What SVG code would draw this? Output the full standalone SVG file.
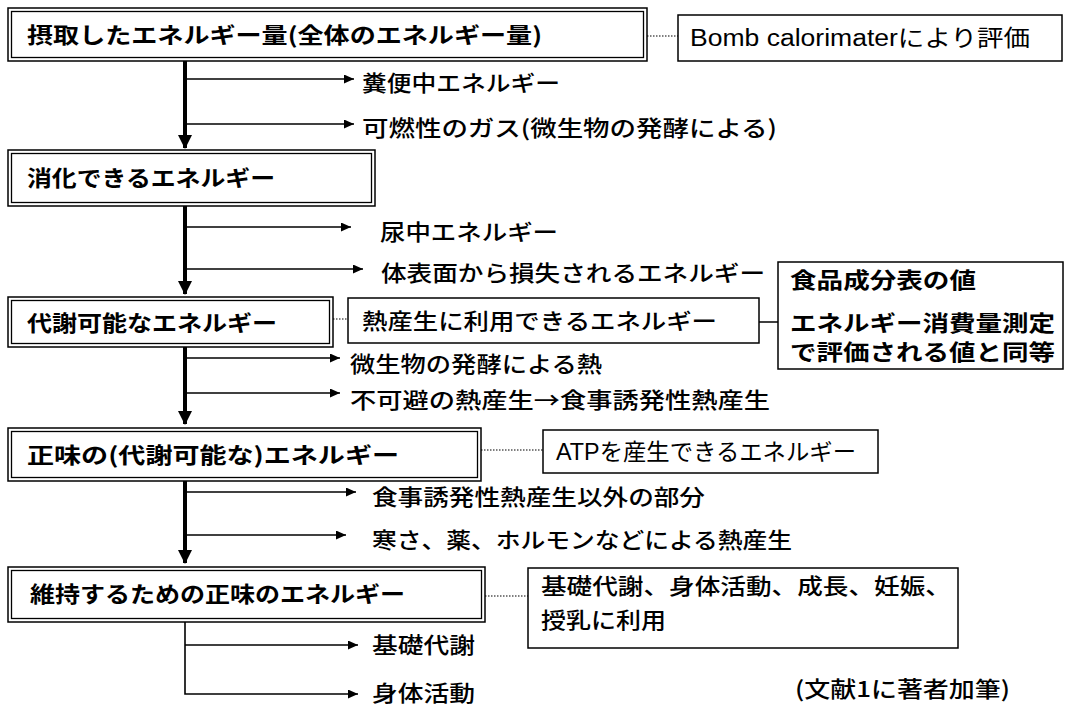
<svg xmlns="http://www.w3.org/2000/svg" width="1065" height="708" viewBox="0 0 1065 708">
<defs>
<style>
.bg{fill:#fff}
.box{fill:#fff;stroke:#000;stroke-width:1.5}
.inner{fill:none;stroke:#000;stroke-width:1.3}
.t{font-family:"Noto Sans CJK JP","Liberation Sans",sans-serif;font-size:22px;fill:#000}
.b{font-weight:bold}
.m{font-weight:500}
.lat{font-family:"Liberation Sans","Noto Sans CJK JP",sans-serif;font-size:23px;fill:#000}
.thick{stroke:#000;stroke-width:4;fill:none}
.thin{stroke:#000;stroke-width:1.6;fill:none}
.dot{stroke:#000;stroke-width:1.2;stroke-dasharray:1.5 1.5;fill:none}
</style>
<marker id="arr" markerUnits="userSpaceOnUse" markerWidth="11" markerHeight="9" refX="10" refY="4.5" orient="auto">
<path d="M0,0 L10,4.5 L0,9 z" fill="#000"/>
</marker>
<marker id="big" markerUnits="userSpaceOnUse" markerWidth="15" markerHeight="15" refX="13" refY="7" orient="auto">
<path d="M0,0 L14,7 L0,14 z" fill="#000"/>
</marker>
</defs>
<rect class="bg" x="0" y="0" width="1065" height="708"/>

<g id="connectors">
<line class="thick" x1="185" y1="61" x2="185" y2="148" marker-end="url(#big)"/>
<line class="thin" x1="185" y1="79" x2="354" y2="79" marker-end="url(#arr)"/>
<line class="thin" x1="185" y1="124" x2="354" y2="124" marker-end="url(#arr)"/>
<line class="dot" x1="647" y1="36" x2="678" y2="36"/>

<line class="thick" x1="185" y1="206" x2="185" y2="294" marker-end="url(#big)"/>
<line class="thin" x1="185" y1="227" x2="351" y2="227" marker-end="url(#arr)"/>
<line class="thin" x1="185" y1="269" x2="363" y2="269" marker-end="url(#arr)"/>

<line class="dot" x1="333" y1="319" x2="348" y2="319"/>
<line class="thin" x1="778" y1="322" x2="731" y2="322" marker-end="url(#arr)"/>

<line class="thick" x1="185" y1="347" x2="185" y2="424" marker-end="url(#big)"/>
<line class="thin" x1="185" y1="358" x2="340" y2="358" marker-end="url(#arr)"/>
<line class="thin" x1="185" y1="393" x2="340" y2="393" marker-end="url(#arr)"/>

<line class="dot" x1="481" y1="450" x2="543" y2="450"/>

<line class="thick" x1="185" y1="481" x2="185" y2="563" marker-end="url(#big)"/>
<line class="thin" x1="185" y1="492" x2="356" y2="492" marker-end="url(#arr)"/>
<line class="thin" x1="185" y1="535" x2="346" y2="535" marker-end="url(#arr)"/>

<line class="dot" x1="485" y1="596" x2="528" y2="596"/>

<path class="thin" d="M185,620 V694 H358" marker-end="url(#arr)"/>
<line class="thin" x1="185" y1="645" x2="358" y2="645" marker-end="url(#arr)"/>
</g>

<g id="n1">
<rect class="box" x="8" y="8" width="639" height="53"/>
<rect class="inner" x="11.5" y="11.5" width="632" height="46"/>
<text class="t b" x="27" y="43" textLength="515" lengthAdjust="spacingAndGlyphs">摂取したエネルギー量(全体のエネルギー量)</text>
</g>
<g id="c1">
<rect class="box" x="678" y="15" width="384" height="46"/>
<text class="lat" x="690" y="46" textLength="340" lengthAdjust="spacingAndGlyphs">Bomb calorimaterにより評価</text>
</g>
<g id="l1"><text class="t m" x="362" y="91" textLength="198" lengthAdjust="spacingAndGlyphs">糞便中エネルギー</text></g>
<g id="l2"><text class="t m" x="362" y="136" textLength="415" lengthAdjust="spacingAndGlyphs">可燃性のガス(微生物の発酵による)</text></g>

<g id="n2">
<rect class="box" x="8" y="150" width="367" height="56"/>
<rect class="inner" x="11.5" y="153.5" width="360" height="49"/>
<text class="t b" x="27" y="186" textLength="248" lengthAdjust="spacingAndGlyphs">消化できるエネルギー</text>
</g>
<g id="l3"><text class="t m" x="380" y="240" textLength="178" lengthAdjust="spacingAndGlyphs">尿中エネルギー</text></g>
<g id="l4"><text class="t m" x="381" y="281" textLength="384" lengthAdjust="spacingAndGlyphs">体表面から損失されるエネルギー</text></g>

<g id="n3">
<rect class="box" x="8" y="297" width="325" height="50"/>
<rect class="inner" x="11.5" y="300.5" width="318" height="43"/>
<text class="t b" x="27" y="331" textLength="250" lengthAdjust="spacingAndGlyphs">代謝可能なエネルギー</text>
</g>
<g id="c2">
<rect class="box" x="348" y="298" width="411" height="45"/>
<text class="t m" x="362" y="329" textLength="355" lengthAdjust="spacingAndGlyphs">熱産生に利用できるエネルギー</text>
</g>
<g id="c3">
<rect class="box" x="778" y="262" width="285" height="107"/>
<text class="t b" x="790" y="288" textLength="186" lengthAdjust="spacingAndGlyphs">食品成分表の値</text>
<text class="t b" x="790" y="331" textLength="265" lengthAdjust="spacingAndGlyphs">エネルギー消費量測定</text>
<text class="t b" x="790" y="360" textLength="265" lengthAdjust="spacingAndGlyphs">で評価される値と同等</text>
</g>
<g id="l5"><text class="t m" x="350" y="372" textLength="252" lengthAdjust="spacingAndGlyphs">微生物の発酵による熱</text></g>
<g id="l6"><text class="t m" x="350" y="408" textLength="420" lengthAdjust="spacingAndGlyphs">不可避の熱産生→食事誘発性熱産生</text></g>

<g id="n4">
<rect class="box" x="8" y="428" width="473" height="53"/>
<rect class="inner" x="11.5" y="431.5" width="466" height="46"/>
<text class="t b" x="27" y="463" textLength="372" lengthAdjust="spacingAndGlyphs">正味の(代謝可能な)エネルギー</text>
</g>
<g id="c4">
<rect class="box" x="543" y="430" width="335" height="43"/>
<text class="lat" x="556" y="460" textLength="300" lengthAdjust="spacingAndGlyphs">ATPを産生できるエネルギー</text>
</g>
<g id="l7"><text class="t m" x="372" y="505" textLength="333" lengthAdjust="spacingAndGlyphs">食事誘発性熱産生以外の部分</text></g>
<g id="l8"><text class="t m" x="372" y="548" textLength="420" lengthAdjust="spacingAndGlyphs">寒さ、薬、ホルモンなどによる熱産生</text></g>

<g id="n5">
<rect class="box" x="8" y="567" width="477" height="55"/>
<rect class="inner" x="11.5" y="570.5" width="470" height="48"/>
<text class="t b" x="30" y="602" textLength="375" lengthAdjust="spacingAndGlyphs">維持するための正味のエネルギー</text>
</g>
<g id="c5">
<rect class="box" x="528" y="568" width="430" height="80"/>
<text class="t m" x="541" y="594" textLength="410" lengthAdjust="spacingAndGlyphs">基礎代謝、身体活動、成長、妊娠、</text>
<text class="t m" x="541" y="628" textLength="125" lengthAdjust="spacingAndGlyphs">授乳に利用</text>
</g>
<g id="l9"><text class="t m" x="372" y="653" textLength="103" lengthAdjust="spacingAndGlyphs">基礎代謝</text></g>
<g id="l10"><text class="t m" x="372" y="701" textLength="103" lengthAdjust="spacingAndGlyphs">身体活動</text></g>
<g id="note"><text class="t m" x="795" y="697" textLength="215" lengthAdjust="spacingAndGlyphs">(文献1に著者加筆)</text></g>
</svg>
